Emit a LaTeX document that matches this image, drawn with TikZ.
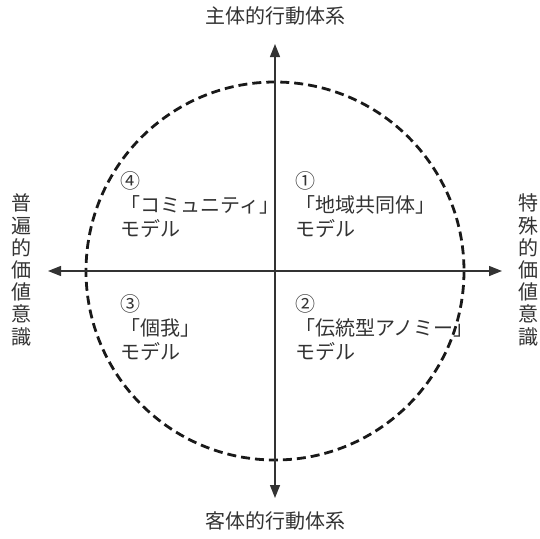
\documentclass[tikz,border=0pt]{standalone}
\usepackage{fontspec}
\setmainfont{Noto Sans CJK JP}
\usetikzlibrary{arrows.meta}
\definecolor{ink}{HTML}{333333}
\tikzset{
  axis/.style={line width=1.4pt, draw=ink, -{Triangle[length=13pt,width=10pt]}},
  ring/.style={line width=2.8pt, draw=black!90, dash pattern=on 9pt off 5pt},
  lbl/.style={inner sep=0pt, text=ink, font=\fontsize{20}{22}\selectfont},
  vlbl/.style={lbl, align=center, font=\fontsize{20}{22.2}\selectfont},
  quad/.style={lbl, anchor=north west, align=left, font=\fontsize{20}{24}\selectfont}
}
\begin{document}
\begin{tikzpicture}[x=1pt,y=-1pt]
\useasboundingbox (0,0) rectangle (540,538);
\coordinate (c) at (275,271);
\coordinate (top) at (275,44);
\coordinate (bot) at (275,498);
\coordinate (lft) at (48,271);
\coordinate (rgt) at (502,271);
\draw[ring] (c) circle[radius=189];
\draw[axis] (c) -- (top);
\draw[axis] (c) -- (bot);
\draw[axis] (c) -- (lft);
\draw[axis] (c) -- (rgt);
\node[lbl] (tl) at (275,16) {主体的行動体系};
\node[lbl] (bl) at (275,521) {客体的行動体系};
\node[vlbl] (ll) at (22,270) {普\\遍\\的\\価\\値\\意\\識};
\node[vlbl] (rl) at (528,270) {特\\殊\\的\\価\\値\\意\\識};
\node[quad] (q4) at (120,171) {④\\「コミュニティ」\\モデル};
\node[quad] (q1) at (295,171) {①\\「地域共同体」\\モデル};
\node[quad] (q3) at (120,294) {③\\「個我」\\モデル};
\node[quad] (q2) at (295,294) {②\\「伝統型アノミー」\\モデル};
\end{tikzpicture}
\end{document}
